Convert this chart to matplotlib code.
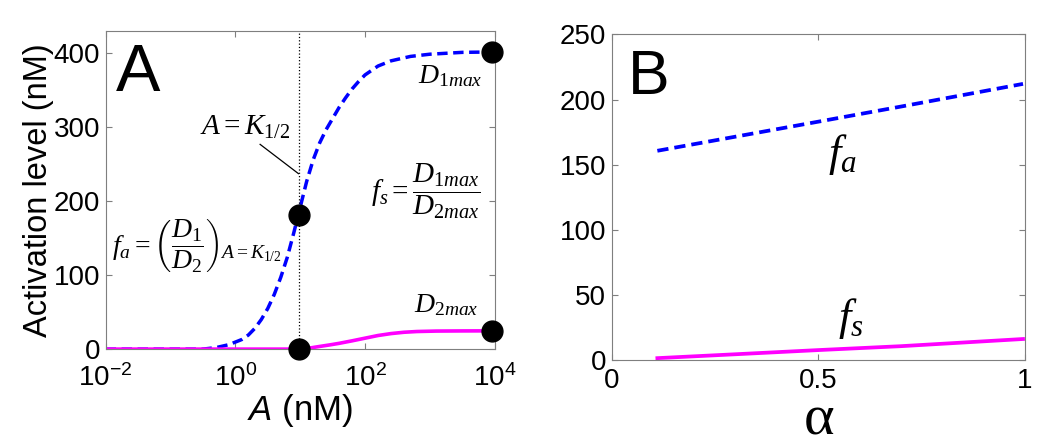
import numpy as np
import matplotlib
matplotlib.use('Agg')
import matplotlib.pyplot as plt

plt.rcParams['font.family'] = ['Liberation Sans', 'DejaVu Sans']
plt.rcParams['mathtext.fontset'] = 'custom'
plt.rcParams['mathtext.rm'] = 'Liberation Serif'
plt.rcParams['mathtext.it'] = 'Liberation Serif:italic'
plt.rcParams['mathtext.bf'] = 'Liberation Serif:bold'
plt.rcParams['mathtext.sf'] = 'Liberation Sans:italic'

# panel A: activation curves vs A (log10 of nM)
log_a_d1 = [-2, -0.5, -0.3, -0.1, 0.1, 0.2, 0.3, 0.4, 0.5, 0.6, 0.7, 0.8, 0.9, 1.0,
            1.1, 1.2, 1.3, 1.4, 1.5, 1.6, 1.7, 1.8, 1.9, 2.0, 2.2, 2.4, 2.7, 3.0,
            3.5, 3.95]
d1 = [0, 0, 2, 6, 13, 19, 28, 40, 55, 74, 97, 124, 157, 192,
      227, 256, 279, 297, 312, 327, 340, 352, 362, 371, 383, 390, 396, 399,
      401.5, 402]
log_a_d2 = [-2, 1.0, 1.1, 1.2, 1.3, 1.45, 1.6, 1.8, 2.0, 2.2, 2.4, 2.6, 2.8,
            3.1, 3.5, 3.95]
d2 = [0, 0, 0.8, 2.2, 3.6, 5.6, 7.8, 11.2, 14.8, 18.4, 21, 22.8, 23.8,
      24.4, 24.6, 24.7]
k_half = 9.5
dot_x = [9.5, 9.5, 9000, 9000]
dot_y = [182, 0, 402, 24.7]

# panel B: fa and fs vs alpha
alpha = [0.11, 0.3, 0.5, 0.7, 0.995]
fa = [160.6, 171.5, 183, 194.6, 212]
fs = [1.3, 4.3, 7.5, 10.5, 16]

blue = '#0000FF'
mag = '#FF00FF'
grey = '#7f7f7f'

fig = plt.figure(figsize=(10.46, 4.47), dpi=100)
ax1 = fig.add_axes([0.101, 0.219, 0.372, 0.711])
ax2 = fig.add_axes([0.585, 0.195, 0.395, 0.728])

ax1.plot(10.0 ** np.array(log_a_d1), d1, color=blue, lw=2.5, dashes=(3.0, 1.6))
ax1.plot(10.0 ** np.array(log_a_d2), d2, color=mag, lw=2.6)
ax1.axvline(k_half, color='k', lw=0.9, ls=':')
ax1.plot(dot_x, dot_y, 'o', color='k', ms=15, clip_on=False, zorder=5)
ax1.plot([2.41, 9.4], [277, 237.4], color='k', lw=0.9)
ax1.set_xscale('log')
ax1.set_xlim(1e-2, 1e4)
ax1.set_ylim(0, 430)
ax1.set_xticks([1e-2, 1, 1e2, 1e4])
ax1.xaxis.set_minor_locator(matplotlib.ticker.NullLocator())
ax1.set_yticks([0, 100, 200, 300, 400])
ax1.set_ylabel('Activation level (nM)', fontsize=23.5, labelpad=0)
ax1.set_xlabel(r'$\mathsf{A}$ (nM)', fontsize=25, labelpad=0)

ax1.text(10 ** -1.84, 349, 'A', fontsize=48, ha='left', va='baseline')
ax1.text(10 ** 0.15, 300, r'$A = K_{1/2}$', fontsize=21, ha='center', va='center')
ax1.text(10 ** -0.6, 140, r'$f_a = \left(\dfrac{D_1}{D_2}\right)_{A=K_{1/2}}$',
         fontsize=20, ha='center', va='center')
ax1.text(10 ** 2.93, 214, r'$f_s = \dfrac{D_{1max}}{D_{2max}}$', fontsize=21,
         ha='center', va='center')
ax1.text(10 ** 3.32, 370, r'$D_{1max}$', fontsize=20, ha='center', va='center')
ax1.text(10 ** 3.245, 60, r'$D_{2max}$', fontsize=20, ha='center', va='center')

ax2.plot(alpha, fa, color=blue, lw=2.7, dashes=(3.0, 1.6))
ax2.plot(alpha, fs, color=mag, lw=2.7)
ax2.set_xlim(0, 1)
ax2.set_ylim(0, 250)
ax2.set_xticks([0, 0.5, 1])
ax2.set_xticklabels(['0', '0.5', '1'])
ax2.set_yticks([0, 50, 100, 150, 200, 250])
ax2.set_xlabel(r'$\mathrm{\alpha}$', fontsize=42, labelpad=-2)
ax2.text(0.039, 204.5, 'B', fontsize=45, ha='left', va='baseline')
ax2.text(0.557, 158, r'$f_a$', fontsize=32, ha='center', va='center')
ax2.text(0.579, 32, r'$f_s$', fontsize=32, ha='center', va='center')

for ax in (ax1, ax2):
    for s in ax.spines.values():
        s.set_color(grey)
        s.set_linewidth(0.8)
    ax.tick_params(direction='in', top=True, right=True, color=grey,
                   labelsize=20, length=4, width=0.8, pad=4)
ax1.tick_params(axis='x', pad=11)
ax2.tick_params(axis='x', pad=6)

fig.savefig('out.png', dpi=100)
